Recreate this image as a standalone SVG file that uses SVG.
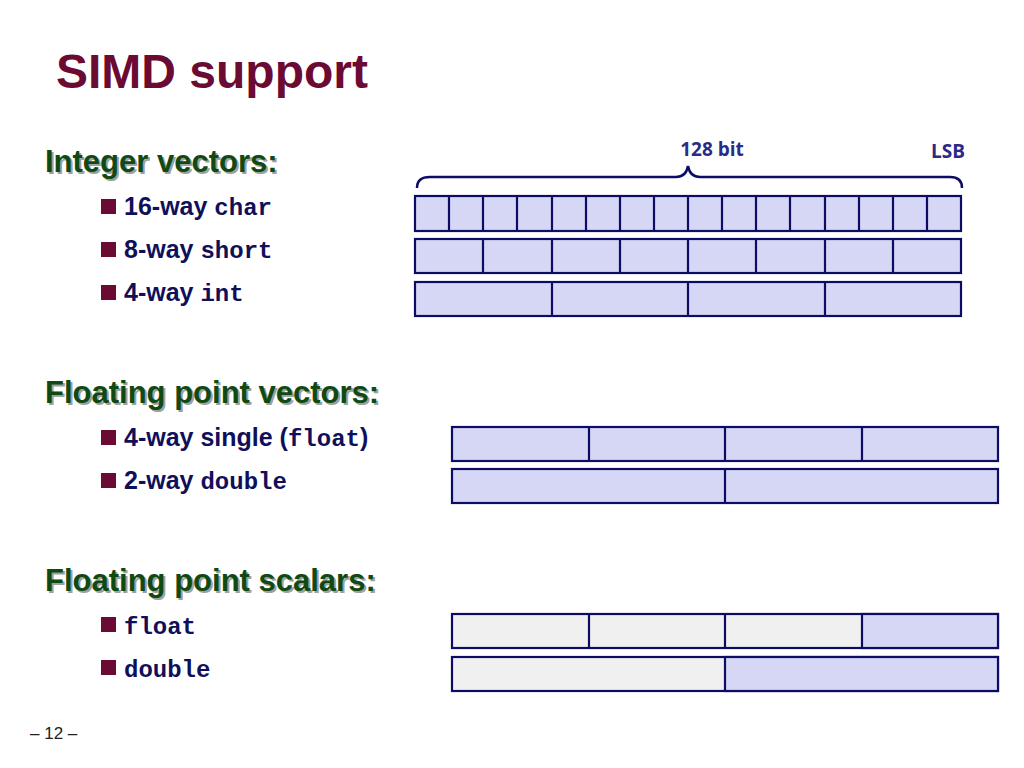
<svg xmlns="http://www.w3.org/2000/svg" width="1024" height="768" viewBox="0 0 1024 768">
<style>
.c{fill:#d6d6f5;stroke:#0c0c66;stroke-width:2.2}
.g{fill:#f0f0f0;stroke:#0c0c66;stroke-width:2.2}
.l{stroke:#0c0c66;stroke-width:2.2}
.h{font-family:"Liberation Sans",Arial,sans-serif;font-weight:bold;font-size:31px;fill:#0f4a12}
.hs{font-family:"Liberation Sans",Arial,sans-serif;font-weight:bold;font-size:31px;fill:#a0a0a0}
.b{font-family:"Liberation Sans",Arial,sans-serif;font-weight:bold;font-size:25px;fill:#10105a}
.m{font-family:"Liberation Mono","Courier New",monospace;font-weight:bold;font-size:24px;fill:#10105a}
.sq{fill:#6b0a33}
</style>
<rect width="1024" height="768" fill="#fff"/>
<text x="56" y="88" font-family="Liberation Sans,Arial,sans-serif" font-weight="bold" font-size="48" fill="#6b0a33">SIMD support</text>
<g id="labels">
<text class="hs" x="47" y="174">Integer vectors:</text><text class="h" x="45" y="172">Integer vectors:</text>
<rect class="sq" x="101" y="199" width="15" height="15"/><text class="b" x="124" y="215">16-way <tspan class="m">char</tspan></text>
<rect class="sq" x="101" y="242" width="15" height="15"/><text class="b" x="124" y="258">8-way <tspan class="m">short</tspan></text>
<rect class="sq" x="101" y="285" width="15" height="15"/><text class="b" x="124" y="301">4-way <tspan class="m">int</tspan></text>
<text class="hs" x="47" y="405">Floating point vectors:</text><text class="h" x="45" y="403">Floating point vectors:</text>
<rect class="sq" x="101" y="430" width="15" height="15"/><text class="b" x="124" y="446">4-way single (<tspan class="m">float</tspan>)</text>
<rect class="sq" x="101" y="473" width="15" height="15"/><text class="b" x="124" y="489">2-way <tspan class="m">double</tspan></text>
<text class="hs" x="47" y="593">Floating point scalars:</text><text class="h" x="45" y="591">Floating point scalars:</text>
<rect class="sq" x="101" y="617" width="15" height="15"/><text class="m" x="124" y="634">float</text>
<rect class="sq" x="101" y="660" width="15" height="15"/><text class="m" x="124" y="677">double</text>
<text x="30" y="739" font-family="Liberation Sans,Arial,sans-serif" font-size="17" fill="#222">– 12 –</text>
</g>
<g id="brace">
<path d="M417,188 Q417,177 430,177 L676,177 Q686,177 688,166 Q690,177 700,177 L950,177 Q962,177 962,188" fill="none" stroke="#0c0c66" stroke-width="2.5"/>
<text x="712" y="156" text-anchor="middle" font-family="Open Sans,sans-serif" font-weight="bold" font-size="19" fill="#2a2a8a">128 bit</text>
<text x="948" y="158" text-anchor="middle" font-family="Open Sans,sans-serif" font-weight="bold" font-size="19" fill="#2a2a8a">LSB</text>
</g>
<g id="int16">
<rect class="c" x="415" y="196" width="546" height="35"/>
<path class="l" d="M449,196v35M483,196v35M517,196v35M552,196v35M586,196v35M620,196v35M654,196v35M688,196v35M722,196v35M756,196v35M790,196v35M825,196v35M859,196v35M893,196v35M927,196v35"/>
</g>
<g id="int8">
<rect class="c" x="415" y="239" width="546" height="34"/>
<path class="l" d="M483,239v34M552,239v34M620,239v34M688,239v34M756,239v34M825,239v34M893,239v34"/>
</g>
<g id="int4">
<rect class="c" x="415" y="282" width="546" height="34"/>
<path class="l" d="M552,282v34M688,282v34M825,282v34"/>
</g>
<g id="f4">
<rect class="c" x="452" y="427" width="546" height="34"/>
<path class="l" d="M589,427v34M725,427v34M862,427v34"/>
</g>
<g id="d2">
<rect class="c" x="452" y="469" width="546" height="34"/>
<path class="l" d="M725,469v34"/>
</g>
<g id="fs">
<rect class="g" x="452" y="614" width="546" height="34"/>
<rect class="c" x="862" y="614" width="136" height="34"/>
<path class="l" d="M589,614v34M725,614v34"/>
</g>
<g id="ds">
<rect class="g" x="452" y="657" width="546" height="34"/>
<rect class="c" x="725" y="657" width="273" height="34"/>
</g>
</svg>
